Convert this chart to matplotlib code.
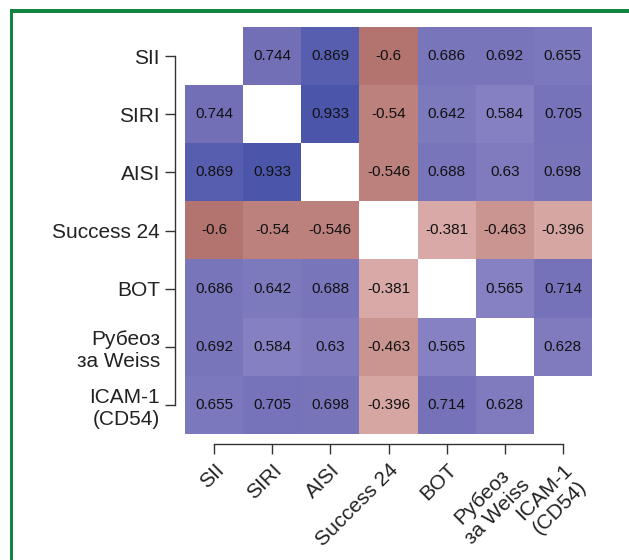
import numpy as np
import matplotlib
matplotlib.use("Agg")
import matplotlib.pyplot as plt
from matplotlib.colors import LinearSegmentedColormap
from matplotlib.patches import Rectangle

plt.rcParams["font.family"] = ["Liberation Sans", "DejaVu Sans"]

labels = ["SII", "SIRI", "AISI", "Success 24", "BOT", "Рубеоз\nза Weiss", "ICAM-1\n(CD54)"]

# correlation matrix, diagonal left empty
corr = [
    [np.nan, 0.744, 0.869, -0.6, 0.686, 0.692, 0.655],
    [0.744, np.nan, 0.933, -0.54, 0.642, 0.584, 0.705],
    [0.869, 0.933, np.nan, -0.546, 0.688, 0.63, 0.698],
    [-0.6, -0.54, -0.546, np.nan, -0.381, -0.463, -0.396],
    [0.686, 0.642, 0.688, -0.381, np.nan, 0.565, 0.714],
    [0.692, 0.584, 0.63, -0.463, 0.565, np.nan, 0.628],
    [0.655, 0.705, 0.698, -0.396, 0.714, 0.628, np.nan],
]
corr = np.array(corr)

# colour nodes
nodes = [
    (-1.0, "#8e403d"),
    (-0.6, "#b37470"),
    (-0.38, "#d9aaa8"),
    (0.0, "#ffffff"),
    (0.565, "#8682c3"),
    (0.744, "#7470b8"),
    (0.933, "#4c56ab"),
    (1.0, "#434ca6"),
]
cmap = LinearSegmentedColormap.from_list("rb", [((v + 1) / 2, c) for v, c in nodes])
cmap.set_bad("white")

fig = plt.figure(figsize=(6.29, 5.6), dpi=100)
ax = fig.add_axes([185 / 629, 1 - 434 / 560, 407 / 629, 407 / 560])

n = len(labels)

# spines first: set_position resets the tick labels
for s in ["top", "right"]:
    ax.spines[s].set_visible(False)
for s in ["left", "bottom"]:
    ax.spines[s].set_position(("outward", 7))
    ax.spines[s].set_color("#333333")
    ax.spines[s].set_linewidth(1)

ax.imshow(np.ma.masked_invalid(corr), cmap=cmap, vmin=-1, vmax=1,
          extent=(-0.5, n - 0.5, n - 0.5, -0.5), aspect="auto")

for i in range(n):
    for j in range(n):
        v = corr[i, j]
        if np.isnan(v):
            continue
        ax.text(j, i, f"{v:g}", ha="center", va="center", fontsize=11, color="#111111")

ax.set_xlim(-0.5, n - 0.5)
ax.set_ylim(n - 0.5, -0.5)
ax.set_xticks(range(n))
ax.set_yticks(range(n))
ax.set_xticklabels(labels, rotation=45, ha="right", rotation_mode="anchor",
                   multialignment="center", fontsize=15, color="#222222")
ax.set_yticklabels(labels, multialignment="right", fontsize=15, color="#222222")
ax.spines["left"].set_bounds(0, n - 1)
ax.spines["bottom"].set_bounds(0, n - 1)
ax.tick_params(axis="both", length=7, width=1, color="#333333")
ax.tick_params(axis="y", pad=4)
ax.tick_params(axis="x", pad=5)

# green frame on top and left edges
green = "#13843f"
fig.add_artist(Rectangle((10 / 629, (560 - 13) / 560), 1, 4 / 560,
                         transform=fig.transFigure, color=green, lw=0))
fig.add_artist(Rectangle((10 / 629, 0), 3.5 / 629, (560 - 9) / 560,
                         transform=fig.transFigure, color=green, lw=0))

fig.savefig("out.png", dpi=100)
